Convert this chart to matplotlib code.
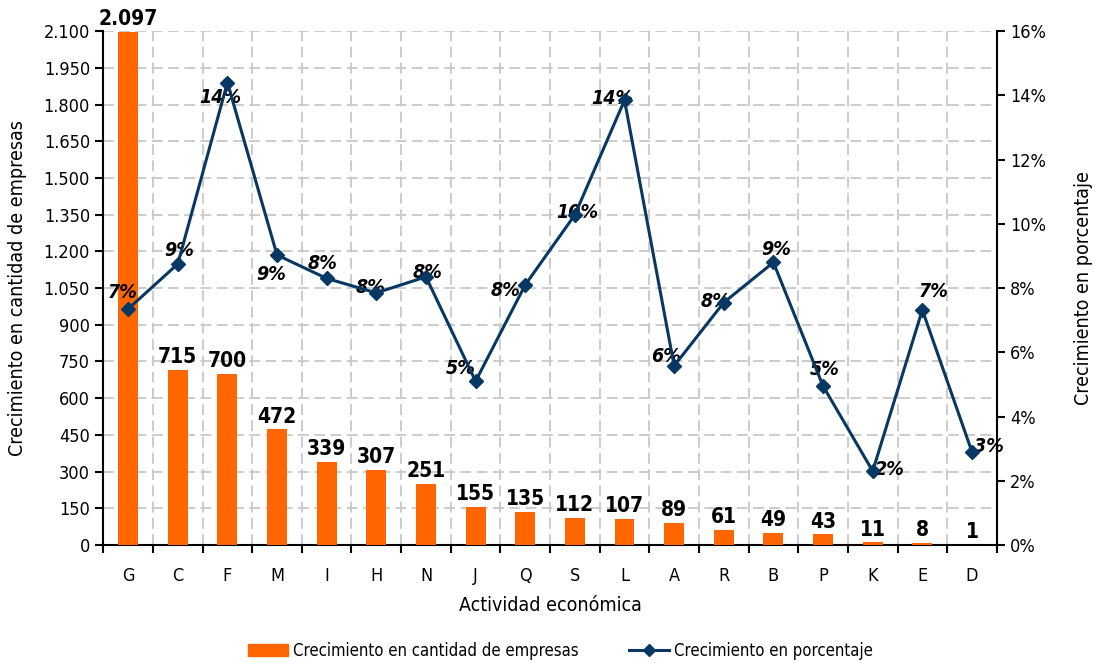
import matplotlib
matplotlib.use("Agg")
import matplotlib.pyplot as plt
from matplotlib.ticker import FuncFormatter, MultipleLocator, FixedLocator
from matplotlib.lines import Line2D
from matplotlib.patches import Patch

plt.rcParams['font.family'] = ['DejaVu Sans']
plt.rcParams['font.stretch'] = 'condensed'

# data
actividades = ['G', 'C', 'F', 'M', 'I', 'H', 'N', 'J', 'Q', 'S', 'L', 'A', 'R', 'B', 'P', 'K', 'E', 'D']
cantidad = [2097, 715, 700, 472, 339, 307, 251, 155, 135, 112, 107, 89, 61, 49, 43, 11, 8, 1]
porcentaje = [7.35, 8.75, 14.4, 9.03, 8.3, 7.85, 8.35, 5.1, 8.1, 10.28, 13.85, 5.58,
              7.55, 8.8, 4.95, 2.3, 7.32, 2.9]
# label offsets (points) for the percentage labels
pct_offsets = [(-4, 12), (1, 10), (-5, -11), (-4, -14), (-3, 11), (-4, 4), (1, 3), (-11, 9),
               (-14, -4), (2, 2), (-9, 1), (-6, 7), (-6, 1), (2, 9), (1, 12), (12, 1),
               (8, 13), (12, 4)]

naranja = '#ff6600'
azul = '#073763'

fig, ax = plt.subplots(figsize=(10.99, 6.63), dpi=100)
fig.subplots_adjust(left=0.094, right=0.907, top=0.953, bottom=0.178)

x = range(len(actividades))
ax.bar(x, cantidad, width=0.4, color=naranja, zorder=3)
for i, v in enumerate(cantidad):
    ax.annotate(f'{v:,}'.replace(',', '.'), (i, min(v, 2100)), xytext=(0, 2),
                textcoords='offset points', ha='center', va='bottom',
                fontsize=15, fontweight='bold', annotation_clip=False)

ax.set_xlim(-0.5, len(actividades) - 0.5)
ax.set_ylim(0, 2100)
ax.yaxis.set_major_locator(MultipleLocator(150))
ax.yaxis.set_major_formatter(FuncFormatter(lambda v, p: f'{int(v):,}'.replace(',', '.')))
ax.set_xticks(list(x))
ax.set_xticklabels(actividades)
ax.xaxis.set_minor_locator(FixedLocator([i - 0.5 for i in range(len(actividades) + 1)]))
ax.tick_params(axis='x', which='major', length=0, pad=16, labelsize=13)
ax.tick_params(axis='x', which='minor', length=6, width=1.5, direction='out')
ax.tick_params(axis='y', length=6, width=1.5, labelsize=13)
ax.grid(True, which='minor', axis='x', color='#c8c8c8', linestyle=(0, (6, 3)), linewidth=1.3)
ax.grid(True, which='major', axis='y', color='#c8c8c8', linestyle=(0, (6, 3)), linewidth=1.3)
ax.set_axisbelow(True)
for s in ['left', 'bottom']:
    ax.spines[s].set_linewidth(1.5)
ax.spines['top'].set_visible(False)
ax.spines['right'].set_visible(False)
ax.set_ylabel('Crecimiento en cantidad de empresas', fontsize=14, labelpad=12)
ax.set_xlabel('Actividad económica', fontsize=14, labelpad=8)

ax2 = ax.twinx()
ax2.plot(list(x), porcentaje, color=azul, linewidth=2.2, marker='D', markersize=7, zorder=4)
for i, v in enumerate(porcentaje):
    dx, dy = pct_offsets[i]
    ax2.annotate(f'{round(v):.0f}%', (i, v), xytext=(dx, dy), textcoords='offset points',
                 ha='center', va='center', fontsize=14, fontweight='bold', style='italic')
ax2.set_ylim(0, 16)
ax2.yaxis.set_major_locator(MultipleLocator(2))
ax2.yaxis.set_major_formatter(FuncFormatter(lambda v, p: f'{int(v)}%'))
ax2.tick_params(axis='y', length=6, width=1.5, labelsize=13)
ax2.spines['right'].set_linewidth(1.5)
ax2.spines['top'].set_visible(False)
ax2.spines['left'].set_visible(False)
ax2.spines['bottom'].set_visible(False)
ax2.set_ylabel('Crecimiento en porcentaje', fontsize=14, labelpad=20)

handles = [Patch(color=naranja),
           Line2D([], [], color=azul, linewidth=2.2, marker='D', markersize=6)]
fig.legend(handles, ['Crecimiento en cantidad de empresas', 'Crecimiento en porcentaje'],
           loc='lower center', ncol=2, frameon=False, fontsize=12,
           bbox_to_anchor=(0.51, -0.018), columnspacing=3.0, handlelength=2.4, handletextpad=0.3)

fig.savefig('out.png', dpi=100)
